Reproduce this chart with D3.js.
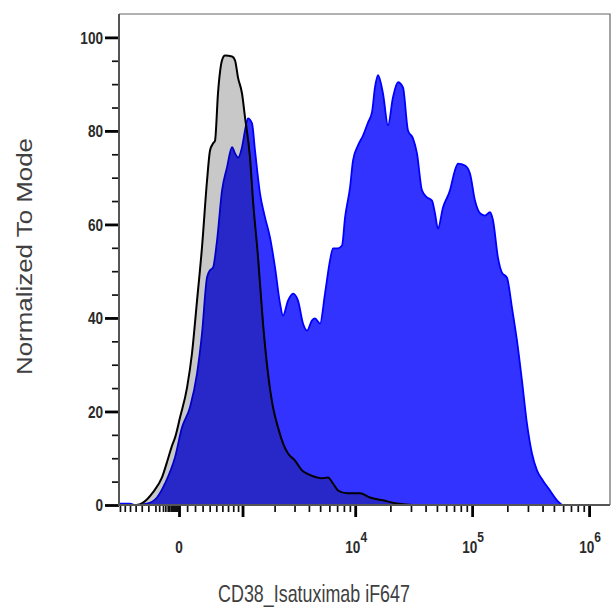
<!DOCTYPE html>
<html><head><meta charset="utf-8">
<script src="https://cdn.jsdelivr.net/npm/d3@7/dist/d3.min.js"></script>
<style>body{margin:0;background:#fff}svg{display:block}</style>
</head><body>
<svg id="chart" width="612" height="608"></svg>
<script>
// ---- data (CD38_Isatuximab iF647, % of mode) ----
const grayX = [-920,-580,-480,-335,-213,-136,-86,-49,12,99,161,226,292,362,405,450,480,528,594,645,776,836,899,988,1059,1185,1266,1412,1571,1745,1936,2146,2377,2631,3029,3486,3852,4699,5190,5845,6453,7124,8511,10996,13387,17290,22780,31210,43610];
const grayY = [0,0,0.5,2.7,5.9,9.9,12.7,14.4,18.7,25.1,32.4,43.7,55.1,69.4,75.8,77.3,77.9,88.2,95.1,96.1,95.9,95.1,91.4,88.0,82.9,74.3,65.1,53.0,38.8,28.1,20.9,16.6,13.2,11.0,9.5,7.4,6.7,5.9,5.7,5.9,4.6,3.1,2.5,2.5,1.6,1.0,0.3,0,0];
const blueX = [-920,-700,-611,-420,-279,-174,-49,37,136,226,292,362,405,450,512,594,681,776,836,899,988,1059,1133,1239,1323,1474,1638,1819,2018,2236,2377,2631,2910,3217,3556,3852,4255,4517,4988,5507,6080,6453,7124,7710,8185,9031,9581,10571,11667,12871,13924,14768,15667,17290,19083,21055,23234,25630,28290,31210,33770,37260,41110,45360,48120,51050,56340,64660,71350,75690,86870,95850,105780,116700,128800,142100,150800,166300,179900,198600,219100,241700,266800,294400,324900,358400,403400,463100,531500,586500];
const blueY = [0.3,0.3,0,0.3,1.6,4.6,10.2,16.6,20.9,28.1,36.7,48.7,50.2,50.8,56.6,67.3,72.2,76.5,75.2,74.3,76.5,80.1,82.7,81.6,75.8,66.6,61.5,57.2,50.8,43.1,40.5,43.7,45.2,43.7,38.8,37.3,39.5,39.9,38.8,45.2,52.3,54.9,54.9,55.5,61.5,67.9,73.7,76.9,79.0,81.8,84.0,89.3,91.9,88.0,81.2,87.2,90.4,89.3,80.1,78.4,75.2,67.3,65.8,65.1,62.4,59.1,63.6,67.3,71.6,73.0,72.6,70.9,65.1,62.4,61.9,62.6,60.9,52.9,49.7,48.6,42.2,35.2,26.6,17.4,11.0,7.4,5.2,3.1,1.0,0];

const yMajor = [0,20,40,60,80,100];
const yMinor = [5,10,15,25,30,35,45,50,55,65,70,75,85,90,95];
const xLabelValues = [0, 1e4, 1e5, 1e6];
const xLabelBase = ["0", "10", "10", "10"];
const xLabelExp = ["", "4", "5", "6"];
const xMajor = [0, 1e3, 1e4, 1e5, 1e6];
const xMinorNeg = [-900,-800,-700,-600,-500,-400,-300,-250,-200,-170,-140,-120,-100,-90,-80,-70,-60,-50,-40,-30,-20,-10];
const xMinorLin = [100,200,300,400,500,600,700,800,900];
const xMinorMult = [2,3,4,5,6,7,8,9];
const xMinorDecades = [1e3,1e4,1e5];
const xTitle = "CD38_Isatuximab iF647";
const yTitle = "Normalized To Mode";

// ---- scales ----
const W = 1.509e6, C = 624;
const T = v => Math.asinh(v / C);            // biexponential-like display transform
const L = 119, R = 610, TOP = 14, BOT = 505;
const xs = d3.scaleLinear().domain([T(-921), T(W)]).range([L, R]);
const x = v => xs(T(v));
const y = d3.scaleLinear().domain([0, 105]).range([BOT, TOP]);

const svg = d3.select("#chart");
const FONT = "Liberation Sans, Arial, sans-serif";

const blue = d3.zip(blueX, blueY);
const gray = d3.zip(grayX, grayY);
const area = d3.area().x(d => x(d[0])).y0(y(0)).y1(d => y(d[1])).curve(d3.curveMonotoneX);
const line = d3.line().x(d => x(d[0])).y(d => y(d[1])).curve(d3.curveMonotoneX);

const plot = svg.append("g").style("isolation", "isolate");
plot.append("path").datum(blue).attr("d", area).attr("fill", "#3333ff");
plot.append("path").datum(blue).attr("d", line).attr("fill", "none").attr("stroke", "#0000ff").attr("stroke-width", 1.8);
plot.append("path").datum(gray).attr("d", area).attr("fill", "#c8c8c8").style("mix-blend-mode", "multiply");
plot.append("path").datum(gray).attr("d", line).attr("fill", "none").attr("stroke", "#000").attr("stroke-width", 2);

// frame
svg.append("path").attr("d", `M${L},${TOP}H${R}V${BOT}`).attr("fill", "none").attr("stroke", "#666").attr("stroke-width", 1.2);

// y axis
const yAxMajor = d3.axisLeft(y).tickValues(yMajor).tickSize(14).tickFormat("");
const yAxMinor = d3.axisLeft(y).tickValues(yMinor).tickSize(7).tickFormat("");
const gy1 = svg.append("g").attr("transform", `translate(${L},0)`).call(yAxMajor);
const gy2 = svg.append("g").attr("transform", `translate(${L},0)`).call(yAxMinor);
[gy1, gy2].forEach(g => { g.select(".domain").remove(); });
gy1.selectAll(".tick line").attr("stroke", "#000").attr("stroke-width", 2.8);
gy2.selectAll(".tick line").attr("stroke", "#111").attr("stroke-width", 1.7);

// x axis
const minorX = xMinorNeg.concat(xMinorLin);
xMinorDecades.forEach(d => xMinorMult.forEach(m => minorX.push(d * m)));
const xAxMajor = d3.axisBottom(xs).tickValues(xMajor.map(T)).tickSize(12).tickFormat("");
const xAxMinor = d3.axisBottom(xs).tickValues(minorX.map(T)).tickSize(7).tickFormat("");
const gx1 = svg.append("g").attr("transform", `translate(0,${BOT})`).call(xAxMajor);
const gx2 = svg.append("g").attr("transform", `translate(0,${BOT})`).call(xAxMinor);
[gx1, gx2].forEach(g => { g.select(".domain").remove(); });
gx1.selectAll(".tick line").attr("stroke", "#000").attr("stroke-width", 2.8);
gx2.selectAll(".tick line").attr("stroke", "#111").attr("stroke-width", 1.7);

// axis lines
svg.append("path").attr("d", `M${L},${TOP}V${BOT}H${R}`).attr("fill", "none").attr("stroke", "#555").attr("stroke-width", 2);

// y tick labels
yMajor.forEach(v => {
  svg.append("text")
    .attr("transform", `translate(103,${y(v)}) scale(0.8,1)`)
    .attr("text-anchor", "end").attr("dy", "0.36em")
    .attr("font-family", FONT)
    .attr("font-size", 17).attr("font-weight", "bold").attr("fill", "#2a2a2a")
    .text(v);
});

// x tick labels
xLabelValues.forEach((v, i) => {
  const t = svg.append("text")
    .attr("transform", `translate(${x(v) + (xLabelExp[i] ? 1 : 0)},553) scale(0.8,1)`)
    .attr("text-anchor", "middle")
    .attr("font-family", FONT)
    .attr("font-size", 17).attr("font-weight", "bold").attr("fill", "#2a2a2a");
  t.append("tspan").text(xLabelBase[i]);
  if (xLabelExp[i]) t.append("tspan").attr("dy", -11).attr("font-size", 15).text(xLabelExp[i]);
});

// titles
svg.append("text")
  .attr("transform", `translate(314,602) scale(0.78,1)`)
  .attr("text-anchor", "middle")
  .attr("font-family", FONT)
  .attr("font-size", 24).attr("fill", "#404040")
  .attr("textLength", 246).attr("lengthAdjust", "spacingAndGlyphs")
  .text(xTitle);

svg.append("text")
  .attr("transform", `translate(32,256.5) scale(0.95,1) rotate(-90)`)
  .attr("text-anchor", "middle")
  .attr("font-family", FONT)
  .attr("font-size", 24).attr("fill", "#404040")
  .attr("textLength", 237).attr("lengthAdjust", "spacingAndGlyphs")
  .text(yTitle);
</script>
</body></html>
